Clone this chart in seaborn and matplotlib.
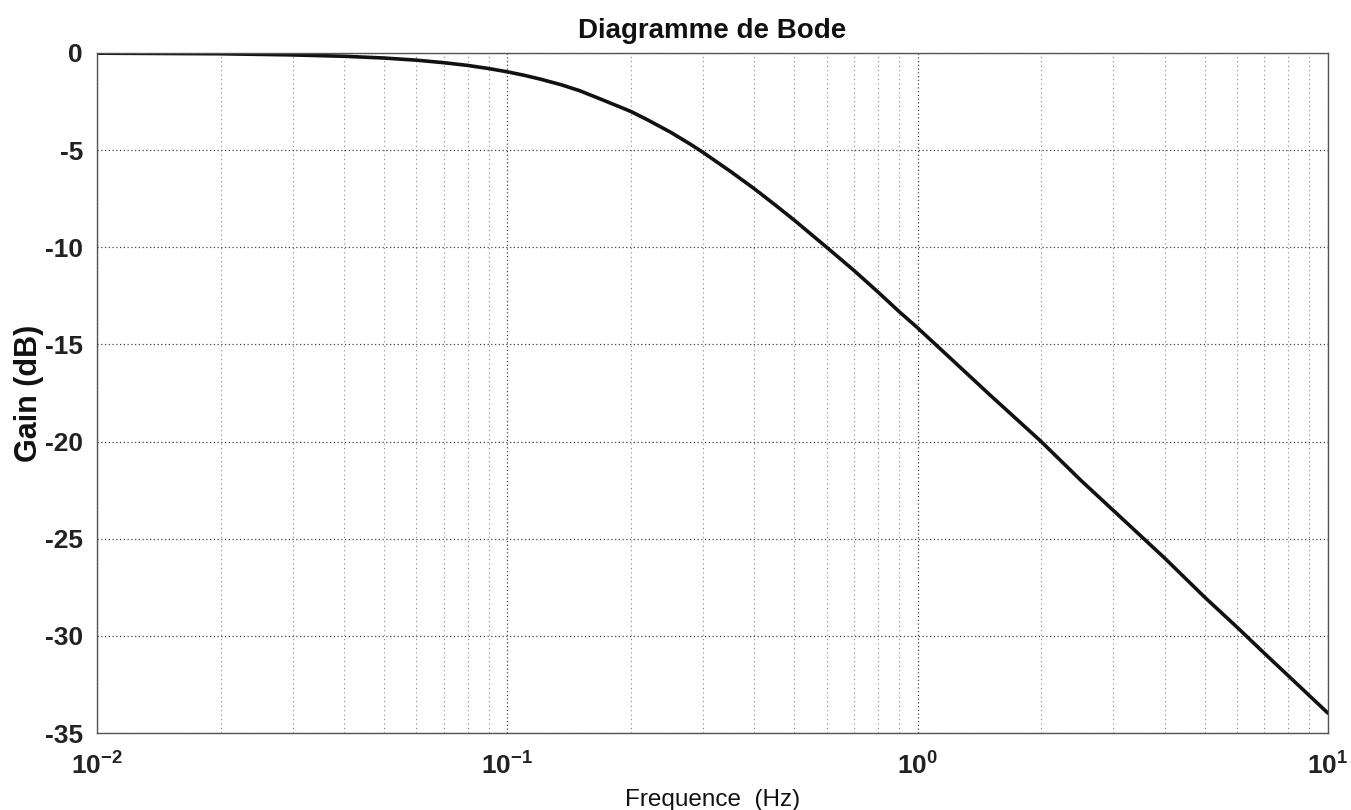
import numpy as np
import pandas as pd
import matplotlib
matplotlib.use("Agg")
import matplotlib.pyplot as plt
import seaborn as sns

# Values
freq_hz = [0.01, 0.02, 0.03, 0.04, 0.05, 0.06, 0.07, 0.08, 0.09, 0.1, 0.11, 0.12,
           0.135, 0.15, 0.17, 0.2, 0.22, 0.25, 0.28, 0.3, 0.35, 0.4, 0.45, 0.5,
           0.6, 0.7, 0.8, 0.9, 1.0, 1.2, 1.5, 2.0, 2.5, 3.0, 4.0, 5.0, 6.0, 7.0,
           8.0, 10.0]
gain_db = [-0.01, -0.04, -0.10, -0.17, -0.26, -0.37, -0.50, -0.64, -0.80, -0.97,
           -1.15, -1.34, -1.63, -1.94, -2.40, -3.01, -3.45, -4.08, -4.71, -5.12,
           -6.10, -6.99, -7.83, -8.60, -10.0, -11.2, -12.3, -13.3, -14.15, -15.7,
           -17.6, -20.0, -22.0, -23.55, -26.0, -28.0, -29.55, -30.9, -32.05,
           -33.98]
y_ticks = [0, -5, -10, -15, -20, -25, -30, -35]
title_text = "Diagramme de Bode"
x_label = "Frequence  (Hz)"
y_label = "Gain (dB)"

sns.set_theme(style="white")
plt.rcParams['font.family'] = ['Liberation Sans', 'DejaVu Sans']
plt.rcParams['mathtext.fontset'] = 'custom'
plt.rcParams['mathtext.rm'] = 'Liberation Sans:bold'
plt.rcParams['mathtext.it'] = 'Liberation Sans:bold'
plt.rcParams['mathtext.bf'] = 'Liberation Sans:bold'

df = pd.DataFrame({"f": freq_hz, "g": gain_db})

fig = plt.figure(figsize=(13.51, 8.10), dpi=100)
ax = fig.add_axes([0.0718, 0.095, 0.9112, 0.8396])

sns.lineplot(data=df, x="f", y="g", ax=ax, color="#111111", linewidth=2.6)

ax.set_xscale("log")
ax.set_xlim(0.01, 10)
ax.set_ylim(-35, 0)
ax.set_yticks(y_ticks)
ax.set_yticklabels([str(v) for v in y_ticks])

ax.grid(True, which="major", color="#444444", linestyle=(0, (1, 2)), linewidth=0.9)
ax.grid(True, which="minor", axis="x", color="#888888", linestyle=(0, (1, 3)), linewidth=0.8)

ax.tick_params(axis="both", which="major", direction="in", length=5, width=0.8,
               labelsize=19, colors="#222222")
ax.tick_params(axis="x", which="major", pad=14)
ax.tick_params(axis="y", which="major", pad=10)
ax.tick_params(axis="x", which="minor", direction="in", length=3, width=0.6)
for lab in ax.get_yticklabels():
    lab.set_fontweight("bold")
for lab in ax.get_xticklabels():
    lab.set_fontweight("bold")

for sp in ax.spines.values():
    sp.set_color("#555555")
    sp.set_linewidth(1.0)

ax.set_title(title_text, fontsize=20, fontweight="bold", color="#111111", pad=11)
ax.set_xlabel(x_label, fontsize=17.5, color="#111111", labelpad=7)
ax.set_ylabel(y_label, fontsize=22, fontweight="bold", color="#111111", labelpad=1)

fig.savefig("out.png", dpi=100, facecolor="white")
